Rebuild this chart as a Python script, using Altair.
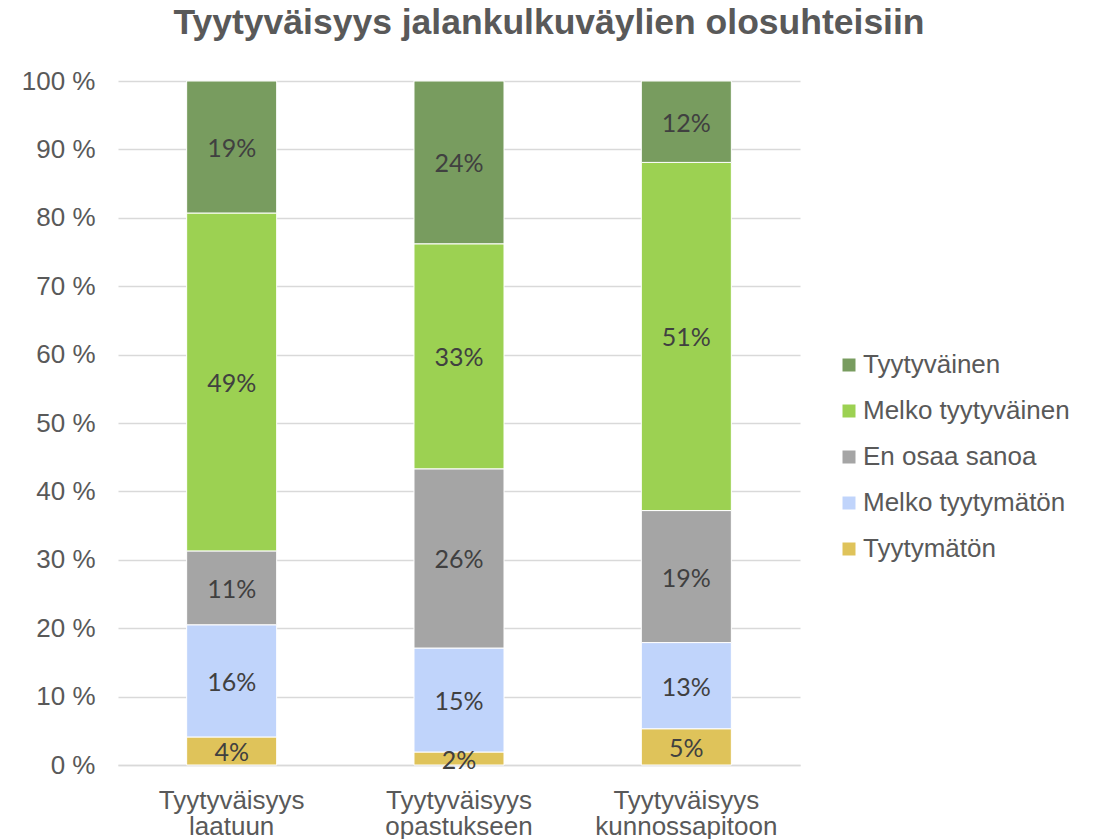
import altair as alt
import pandas as pd

categories = ["Tyytyväisyys laatuun", "Tyytyväisyys opastukseen", "Tyytyväisyys kunnossapitoon"]
series = ["Tyytymätön", "Melko tyytymätön", "En osaa sanoa", "Melko tyytyväinen", "Tyytyväinen"]
colors = ["#dfc35a", "#c0d4fb", "#a5a5a5", "#9cd152", "#789c5f"]

tyytymaton = [4.1, 1.9, 5.3]
melko_tyytymaton = [16.4, 15.2, 12.6]
en_osaa = [10.8, 26.2, 19.3]
melko_tyytyvainen = [49.4, 32.9, 50.9]
tyytyvainen = [19.3, 23.8, 11.9]

values = [tyytymaton, melko_tyytymaton, en_osaa, melko_tyytyvainen, tyytyvainen]

rows = []
for si, (s, vals) in enumerate(zip(series, values)):
    for ci, c in enumerate(categories):
        rows.append({"cat": c, "series": s, "order": si, "value": vals[ci]})
df = pd.DataFrame(rows)

base = alt.Chart(df).transform_stack(
    stack="value", groupby=["cat"], as_=["y0", "y1"],
    sort=[alt.SortField("order", order="ascending")]
).transform_calculate(
    mid="(datum.y0 + datum.y1) / 2",
    lab="format(datum.value, '.0f') + '%'"
)

xenc = alt.X("cat:N", sort=categories, title=None,
             scale=alt.Scale(paddingInner=0.604, paddingOuter=0.302),
             axis=alt.Axis(labelAngle=0, labelExpr="split(datum.label, ' ')",
                           labelFont="Liberation Sans", labelFontSize=26,
                           labelColor="#595959", labelLineHeight=26,
                           labelPadding=35, labelLimit=400, ticks=False,
                           labelBaseline="middle",
                           domainColor="#d9d9d9", domainWidth=1.5))

bars = base.mark_bar(stroke="white", strokeWidth=1).encode(
    x=xenc,
    y=alt.Y("y0:Q", title=None,
            scale=alt.Scale(domain=[0, 100]),
            axis=alt.Axis(values=list(range(0, 101, 10)),
                          labelExpr="datum.value + ' %'",
                          labelFont="Liberation Sans", labelFontSize=26,
                          labelColor="#595959", labelPadding=23,
                          ticks=False, domain=False,
                          gridColor="#d9d9d9", gridWidth=1.5)),
    y2="y1:Q",
    color=alt.Color("series:N", sort=series[::-1],
                    scale=alt.Scale(domain=series[::-1], range=colors[::-1]),
                    legend=alt.Legend(title=None, orient="none",
                                      legendX=718, legendY=271,
                                      symbolType="square", symbolSize=169,
                                      symbolStrokeWidth=0,
                                      labelFont="Liberation Sans",
                                      labelFontSize=26, labelColor="#595959",
                                      labelLimit=400,
                                      rowPadding=20, labelOffset=1)),
    order=alt.Order("order:Q")
)

labels = base.mark_text(font="Lato", fontSize=25, color="#404040",
                        baseline="middle", dy=2).encode(
    x=alt.X("cat:N", sort=categories),
    y=alt.Y("mid:Q"),
    text="lab:N"
)

chart = alt.layer(bars, labels).properties(
    width=682, height=684,
    autosize=alt.AutoSizeParams(type="none"),
    padding={"left": 110, "top": 73, "right": 290, "bottom": 74},
    title=alt.TitleParams(
        "Tyytyväisyys jalankulkuväylien olosuhteisiin",
        font="Liberation Sans", fontWeight="bold", fontSize=35.5,
        color="#595959", anchor="middle", dx=90, offset=27
    )
).configure_view(stroke=None)

chart.save("out.html", embed_options={"renderer": "svg", "actions": False})
